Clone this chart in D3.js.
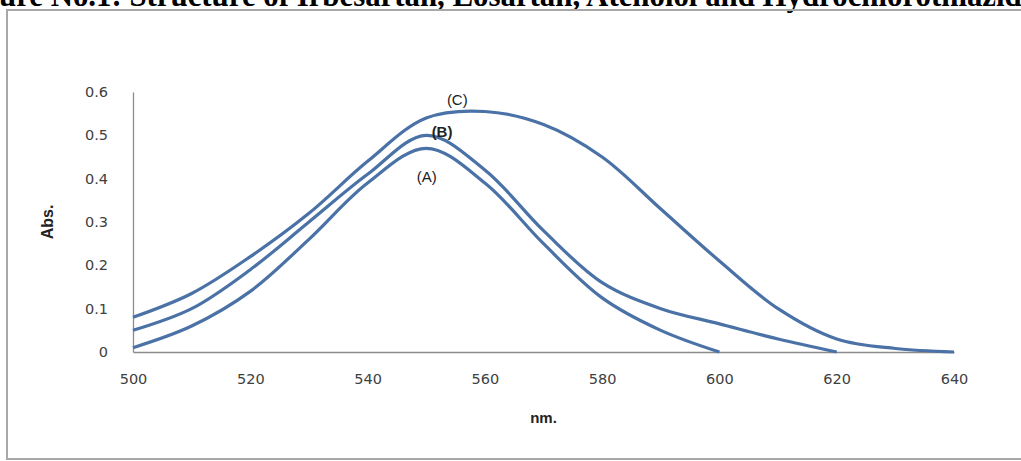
<!DOCTYPE html>
<html>
<head>
<meta charset="utf-8">
<script src="https://cdn.jsdelivr.net/npm/d3@7"></script>
<style>
  body { margin: 0; background: #fff; }
  svg { display: block; }
</style>
</head>
<body>
<svg></svg>
<script>
var svgWidth = 1021, svgHeight = 461;

// wavelengths (nm) and absorbance of the three solutions
var wavelengthsA = [500, 510, 520, 530, 540, 550, 560, 570, 580, 590, 600];
var absA = [0.01, 0.06, 0.14, 0.26, 0.39, 0.47, 0.39, 0.25, 0.125, 0.05, 0.0];

var wavelengthsB = [500, 510, 520, 530, 540, 550, 560, 570, 580, 590, 600, 610, 620];
var absB = [0.05, 0.10, 0.19, 0.30, 0.41, 0.50, 0.42, 0.28, 0.16, 0.10, 0.065, 0.03, 0.0];

var wavelengthsC = [500, 510, 520, 530, 540, 550, 560, 570, 580, 590, 600, 610, 620, 630, 640];
var absC = [0.08, 0.135, 0.22, 0.32, 0.44, 0.54, 0.555, 0.525, 0.45, 0.33, 0.21, 0.10, 0.03, 0.008, 0.0];

var xTicks = [500, 520, 540, 560, 580, 600, 620, 640];
var yTicks = [0, 0.1, 0.2, 0.3, 0.4, 0.5, 0.6];

// label positions given in data units
var seriesLabels = [
    { text: "(A)", nm: 550.1, abs: 0.392, bold: false },
    { text: "(B)", nm: 552.7, abs: 0.496, bold: true },
    { text: "(C)", nm: 555.3, abs: 0.570, bold: false }
];

var svg = d3.select("svg")
            .attr("width", svgWidth)
            .attr("height", svgHeight);

// cut off caption from the page above, sized so it runs across the whole width
var caption = "Figure No.1: Structure of Irbesartan, Losartan, Atenolol and Hydrochlorothiazide";
var title = svg.append("text")
    .attr("y", 6)
    .style("font-family", "'Liberation Serif', 'Times New Roman', serif")
    .style("font-weight", "bold")
    .style("font-size", "25px")
    .attr("fill", "#000")
    .text(caption);
var node = title.node();
var startIdx = caption.indexOf("ure"),
    endIdx = caption.length - 1;            // the final "e" falls off the page
var off = node.getSubStringLength(0, startIdx);
var span = node.getSubStringLength(startIdx, endIdx - startIdx);
var k = (svgWidth + 2) / span;
title.style("font-size", (25 * k) + "px").attr("x", -off * k - 1);

// chart frame
svg.append("rect")
    .attr("x", 7)
    .attr("y", 10)
    .attr("width", 1100)
    .attr("height", 449)
    .attr("fill", "none")
    .attr("stroke", "#a8a8a8")
    .attr("stroke-width", 2);

var x = d3.scaleLinear().domain([500, 640]).range([133, 954]);
var y = d3.scaleLinear().domain([0, 0.6]).range([352, 92]);

var tickFont = "'DejaVu Sans', Verdana, sans-serif";

// axes
var xAxis = svg.append("g")
    .attr("transform", "translate(0," + y(0) + ")")
    .call(d3.axisBottom(x).tickValues(xTicks).tickSize(0).tickPadding(22).tickFormat(d3.format("d")));
var yAxis = svg.append("g")
    .attr("transform", "translate(" + x(500) + ",0)")
    .call(d3.axisLeft(y).tickValues(yTicks).tickSize(0).tickPadding(25).tickFormat(function(d) { return d === 0 ? "0" : d3.format(".1f")(d); }));

[xAxis, yAxis].forEach(function(ax) {
    ax.select(".domain").attr("stroke", "#8c8c8c").attr("stroke-width", 1.3);
    ax.selectAll("text")
        .style("font-family", tickFont)
        .style("font-size", "14.5px")
        .attr("fill", "#404040");
});

// axis titles
svg.append("text")
    .attr("x", (x(500) + x(640)) / 2)
    .attr("y", 423)
    .attr("text-anchor", "middle")
    .style("font-family", "'Liberation Sans', Arial, sans-serif")
    .style("font-weight", "bold")
    .style("font-size", "15px")
    .attr("fill", "#222")
    .text("nm.");

svg.append("text")
    .attr("transform", "translate(53," + ((y(0) + y(0.6)) / 2) + ") rotate(-90)")
    .attr("text-anchor", "middle")
    .style("font-family", "'Liberation Sans', Arial, sans-serif")
    .style("font-weight", "bold")
    .style("font-size", "16px")
    .attr("fill", "#222")
    .text("Abs.");

var line = d3.line()
    .x(function(d) { return x(d[0]); })
    .y(function(d) { return y(d[1]); })
    .curve(d3.curveCatmullRom.alpha(0.5));

var series = [
    d3.zip(wavelengthsA, absA),
    d3.zip(wavelengthsB, absB),
    d3.zip(wavelengthsC, absC)
];

svg.selectAll(".spectrum")
    .data(series)
    .enter().append("path")
        .attr("class", "spectrum")
        .attr("d", line)
        .attr("fill", "none")
        .attr("stroke", "#4a72a6")
        .attr("stroke-width", 3.2)
        .attr("stroke-linejoin", "round");

svg.selectAll(".curve-label")
    .data(seriesLabels)
    .enter().append("text")
        .attr("class", "curve-label")
        .attr("x", function(d) { return x(d.nm); })
        .attr("y", function(d) { return y(d.abs); })
        .attr("text-anchor", "middle")
        .style("font-family", "'Liberation Sans', Arial, sans-serif")
        .style("font-size", "15px")
        .style("font-weight", function(d) { return d.bold ? "bold" : "normal"; })
        .attr("fill", "#222")
        .text(function(d) { return d.text; });
</script>
</body>
</html>
